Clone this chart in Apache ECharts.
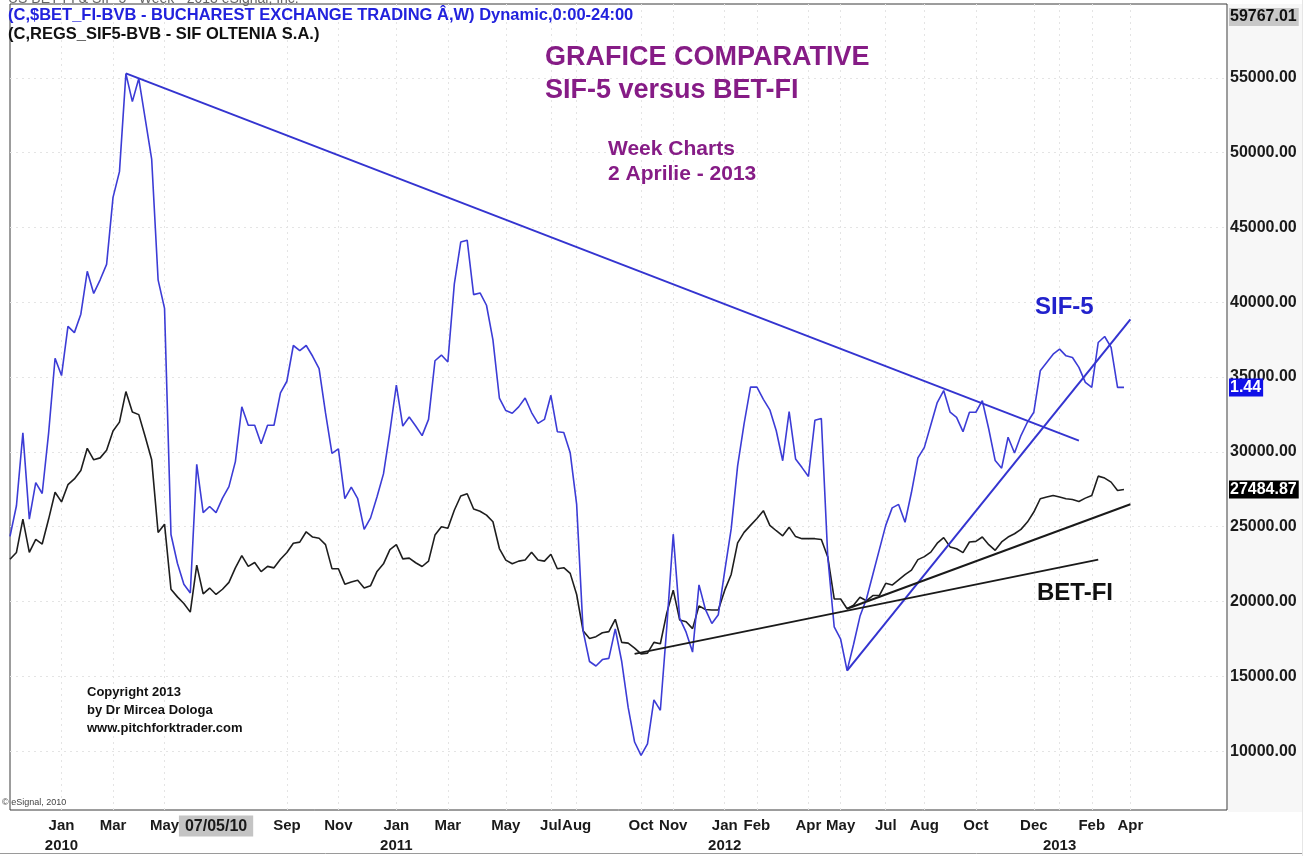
<!DOCTYPE html>
<html>
<head>
<meta charset="utf-8">
<script src="https://cdn.jsdelivr.net/npm/echarts@6/dist/echarts.min.js"></script>
<style>
  html, body { margin: 0; padding: 0; background: #fff; }
  #main { width: 1314px; height: 856px; }
</style>
</head>
<body>
<div id="main"></div>
<script>
// weekly closes, first bar = week of 13 Nov 2009
var sif5 = [
  24350, 26400, 31270, 25500, 27940, 27220, 31270, 36260, 35100, 38390,
  37970, 39200, 42070, 40590, 41500, 42530, 47010, 48730, 55280, 53410,
  54950, 52260, 49570, 41500, 39590, 24480, 22560, 21150, 20570, 29170,
  25940, 26350, 25940, 26910, 27680, 29350, 33010, 31780, 31780, 30550,
  31780, 31780, 33950, 34720, 37110, 36770, 37110, 36390, 35570, 32600,
  29900, 30200, 26870, 27640, 26870, 24820, 25590, 27000, 28530, 31350,
  34470, 31730, 32330, 31730, 31090, 32170, 36090, 36470, 36010, 41210,
  44020, 44150, 40510, 40620, 39800, 37490, 33600, 32760, 32580, 33010,
  33600, 32630, 31910, 32170, 33780, 31350, 31300, 29940, 26490, 18040,
  15990, 15690, 16120, 16200, 18170, 15990, 12920, 10610, 9720, 10490,
  13430, 12730, 18300, 24500, 18890, 17950, 16620, 21110, 19470, 18530,
  19120, 22050, 24850, 29070, 31870, 34330, 34330, 33510, 32810, 31410,
  29410, 32690, 29530, 28950, 28360, 32110, 32230, 22980, 18300, 17480,
  15380, 17130, 19010, 20170, 21810, 23450, 25090, 26260, 26490, 25300,
  27300, 29600, 30300, 31800, 33300, 34100, 32650, 32310, 31350, 32650,
  32650, 33420, 31530, 29420, 28910, 30980, 29930, 31090, 31980, 32650,
  35420, 35980, 36530, 36870, 36420, 36310, 35650, 34650, 34310, 37310,
  37710, 36980, 34310, 34310
];
var betfi = [
  22820, 23280, 25510, 23280, 24150, 23840, 25510, 27300, 26660, 27810,
  28190, 28760, 30240, 29470, 29600, 30110, 31390, 31990, 34030, 32670,
  32490, 31010, 29470, 24610, 25170, 20820, 20310, 19870, 19290, 22430,
  20510, 20900, 20470, 20820, 21280, 22250, 23070, 22350, 22610, 22000,
  22350, 22250, 22820, 23280, 23890, 23970, 24660, 24310, 24230, 23800,
  22200, 22190, 21160, 21310, 21420, 20910, 21060, 22010, 22520, 23470,
  23800, 22850, 22900, 22590, 22340, 22700, 24440, 25000, 24900, 26100,
  27050, 27200, 26180, 26030, 25770, 25330, 23540, 22770, 22520, 22700,
  22770, 23290, 22770, 22700, 23160, 22190, 22260, 21880, 20470, 18040,
  17530, 17650, 17910, 17990, 18810, 17270, 17220, 16890, 16500, 16550,
  17270, 17180, 19240, 20760, 18770, 18650, 18190, 19710, 19470, 19430,
  19430, 20760, 21810, 23920, 24620, 25090, 25550, 26070, 25090, 24730,
  24390, 24970, 24340, 24200, 24200, 24200, 24150, 22980, 20170, 20170,
  19520, 19750, 20290, 20050, 20400, 20400, 21220, 21100, 21450, 21800,
  22100, 22800, 23000, 23300, 23900, 24270, 23650, 23530, 23270, 23980,
  24020, 24310, 23800, 23420, 23980, 24310, 24530, 24820, 25310, 25980,
  26870, 26980, 27090, 26980, 26870, 26820, 26690, 26910, 27090, 28380,
  28250, 27980, 27420, 27485
];

// trend lines: [week index, value]
var sifDownTrend = [[18, 55300], [166, 30750]];
var sifUpTrend = [[130, 15380], [174, 38850]];
var betLongTrend = [[97, 16500], [169, 22800]];
var betShortTrend = [[130, 19520], [174, 26500]];

var monthTicks = [8, 16, 24, 43, 51, 60, 68, 77, 84, 88, 98, 103, 111, 116, 124, 129, 136, 142, 150, 159, 163, 168, 174];
var monthNames = ['Jan\n2010', 'Mar', 'May', 'Sep', 'Nov', 'Jan\n2011', 'Mar', 'May', 'Jul', 'Aug', 'Oct', 'Nov',
  'Jan\n2012', 'Feb', 'Apr', 'May', 'Jul', 'Aug', 'Oct', 'Dec', '\n2013', 'Feb', 'Apr'];
var cursorIdx = 32, cursorText = '07/05/10';
var priceTicks = [10000, 15000, 20000, 25000, 30000, 35000, 40000, 45000, 50000, 55000];

// week dates for the category axis (incl. empty weeks on the right)
var weeks = [];
var d0 = new Date(2009, 10, 13);
for (var k = 0; k < 190; k++) {
  var d = new Date(d0.getTime() + k * 7 * 86400000);
  weeks.push(d.getFullYear() + '-' + (d.getMonth() + 1) + '-' + d.getDate());
}

var labelAt = {};
monthTicks.forEach(function (t, i) { labelAt[t] = monthNames[i]; });
labelAt[cursorIdx] = '{cur|' + cursorText + '}';

var FONT = '"Liberation Sans", Arial, sans-serif';
var chart = echarts.init(document.getElementById('main'));

function trend(data, color) {
  return {
    type: 'line', data: data, symbol: 'none', silent: true,
    lineStyle: { color: color, width: 2 }, z: 3
  };
}

chart.setOption({
  animation: false,
  backgroundColor: '#fff',
  grid: { left: 10, right: 87, top: 4, bottom: 44, show: true, borderColor: '#3a3a3a', borderWidth: 1 },
  xAxis: {
    type: 'category', data: weeks, boundaryGap: false,
    axisLine: { show: false }, axisTick: { show: false },
    axisLabel: {
      interval: function (i) { return labelAt[i] !== undefined; },
      formatter: function (v, i) { return labelAt[i] || ''; },
      fontFamily: FONT, fontWeight: 'bold', fontSize: 15, color: '#1a1a1a',
      lineHeight: 20, margin: 6,
      rich: {
        cur: { backgroundColor: '#c4c4c4', padding: [3, 6, 2, 6], fontFamily: FONT, fontWeight: 'bold', fontSize: 16, color: '#1a1a1a' }
      }
    },
    splitLine: {
      show: true,
      interval: function (i) { return monthTicks.indexOf(i) >= 0; },
      lineStyle: { color: '#e4e4e4', type: [2, 4] }
    }
  },
  yAxis: {
    type: 'value', position: 'right', min: 6067, max: 59933,
    axisLine: { show: false },
    axisTick: { show: false, customValues: priceTicks },
    axisLabel: {
      customValues: priceTicks,
      formatter: function (v) { return v.toFixed(2); },
      fontFamily: FONT, fontWeight: 'bold', fontSize: 16, color: '#1a1a1a', margin: 3
    },
    splitLine: { show: true, lineStyle: { color: '#e4e4e4', type: [2, 4] } }
  },
  series: [
    { name: 'BET-FI', type: 'line', data: betfi, symbol: 'none', lineStyle: { color: '#1e1e1e', width: 1.6 }, z: 2 },
    { name: 'SIF-5', type: 'line', data: sif5, symbol: 'none', lineStyle: { color: '#3c3cd6', width: 1.6 }, z: 2 },
    trend(sifDownTrend, '#3434d0'),
    trend(sifUpTrend, '#3434d0'),
    trend(betLongTrend, '#1a1a1a'),
    trend(betShortTrend, '#1a1a1a')
  ]
});

function yPix(v) { return chart.convertToPixel({ yAxisIndex: 0 }, v); }
function tag(text, v, bg, fg, minY) {
  var y = Math.max(yPix(v), minY || 0);
  return {
    type: 'text', left: 1229, top: y - 9, z: 20,
    style: { text: text, font: 'bold 16px ' + FONT, fill: fg, backgroundColor: bg, padding: [1, 2, 1, 1] }
  };
}
function txt(x, y, s, size, color, weight) {
  return { type: 'text', left: x, top: y, z: 20,
    style: { text: s, font: (weight || 'bold') + ' ' + size + 'px ' + FONT, fill: color } };
}

chart.setOption({
  graphic: [
    { type: 'rect', shape: { x: 1228, y: 4, width: 74, height: 808 }, style: { fill: '#f7f7f7' }, z: -1, silent: true },
    { type: 'line', shape: { x1: 0, y1: 853.5, x2: 1302, y2: 853.5 }, style: { stroke: '#9a9a9a', lineWidth: 1 }, z: 20 },
    { type: 'line', shape: { x1: 1302.5, y1: 0, x2: 1302.5, y2: 856 }, style: { stroke: '#e6e6e6', lineWidth: 1 }, z: 20 },
    txt(8, -8, 'US BET-FI & SIF-5 - Week - 2013 eSignal, Inc.', 14, '#666', 'normal'),
    txt(8, 7, '(C,$BET_FI-BVB - BUCHAREST EXCHANGE TRADING Â,W) Dynamic,0:00-24:00', 16.5, '#2222dd'),
    txt(8, 26, '(C,REGS_SIF5-BVB - SIF OLTENIA S.A.)', 16.5, '#111'),
    txt(545, 44, 'GRAFICE COMPARATIVE', 27, '#861c86'),
    txt(545, 77, 'SIF-5 versus BET-FI', 27, '#861c86'),
    txt(608, 139, 'Week Charts', 21, '#861c86'),
    txt(608, 164, '2 Aprilie - 2013', 21, '#861c86'),
    txt(1035, 295, 'SIF-5', 24, '#2222cc'),
    txt(1037, 581, 'BET-FI', 24, '#111'),
    txt(87, 686, 'Copyright 2013', 13, '#111'),
    txt(87, 704, 'by Dr Mircea Dologa', 13, '#111'),
    txt(87, 722, 'www.pitchforktrader.com', 13, '#111'),
    txt(2, 798, '© eSignal, 2010', 9, '#444', 'normal'),
    tag('59767.01', 59767.01, '#c8c8c8', '#111', 17),
    tag('1.44', sif5[sif5.length - 1], '#1010e8', '#fff'),
    tag('27484.87', 27484.87, '#000', '#fff')
  ]
});
</script>
</body>
</html>
